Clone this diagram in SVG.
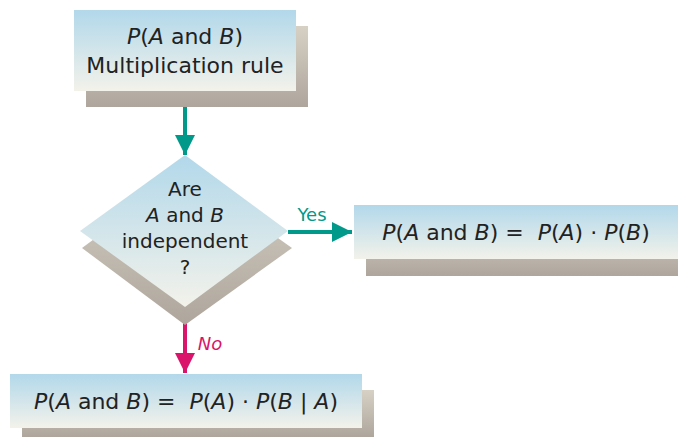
<svg xmlns="http://www.w3.org/2000/svg" width="678" height="437" viewBox="0 0 678 437">
<defs>
<linearGradient id="face" x1="0" y1="0" x2="0" y2="1">
<stop offset="0" stop-color="#b2d8ea"/>
<stop offset="1" stop-color="#f3f2ea"/>
</linearGradient>
<linearGradient id="shade" x1="0" y1="0" x2="0" y2="1">
<stop offset="0" stop-color="#d6d0c5"/>
<stop offset="1" stop-color="#aea69c"/>
</linearGradient>
<marker id="ahT" viewBox="0 0 10 10" refX="10" refY="5" markerWidth="5" markerHeight="5" markerUnits="strokeWidth" orient="auto">
<path d="M0,0 L10,5 L0,10 z" fill="#00998a"/>
</marker>
<marker id="ahM" viewBox="0 0 10 10" refX="10" refY="5" markerWidth="5" markerHeight="5" markerUnits="strokeWidth" orient="auto">
<path d="M0,0 L10,5 L0,10 z" fill="#d9146a"/>
</marker>
</defs>
<style>
.face{fill:url(#face)}
.shade{fill:url(#shade)}
text{font-family:"DejaVu Sans","Liberation Sans",sans-serif;font-size:22px;fill:#222;text-anchor:middle}
.i{font-style:italic}
.d{font-size:20px}
.lbl{font-size:18px}
</style>
<g id="connectors">
<line x1="185" y1="91" x2="185" y2="155" stroke="#00998a" stroke-width="4" marker-end="url(#ahT)"/>
<line x1="288" y1="232" x2="352" y2="232" stroke="#00998a" stroke-width="4" marker-end="url(#ahT)"/>
<text class="lbl" x="312" y="221" style="fill:#00998a">Yes</text>
<line x1="185" y1="309" x2="185" y2="373" stroke="#d9146a" stroke-width="4" marker-end="url(#ahM)"/>
<text class="lbl i" x="210" y="350" style="fill:#d9146a">No</text>
</g>
<g id="start">
<rect class="shade" x="86" y="26" width="222" height="81"/>
<rect class="face" x="74" y="10" width="222" height="81"/>
<text x="185" y="44"><tspan class="i">P</tspan>(<tspan class="i">A</tspan> and <tspan class="i">B</tspan>)</text>
<text x="185" y="73">Multiplication rule</text>
</g>
<g id="decision">
<polygon class="shade" points="185,172 292,248 185,325 82,248"/>
<polygon class="face" points="185,155 288,231 185,307 80,231"/>
<text class="d" x="185" y="196">Are</text>
<text class="d" x="185" y="222"><tspan class="i">A</tspan> and <tspan class="i">B</tspan></text>
<text class="d" x="185" y="248">independent</text>
<text class="d" x="185" y="274">?</text>
</g>
<g id="independent">
<rect class="shade" x="366" y="221" width="312" height="55"/>
<rect class="face" x="354" y="205" width="324" height="54"/>
<text x="516" y="240" xml:space="preserve"><tspan class="i">P</tspan>(<tspan class="i">A</tspan> and <tspan class="i">B</tspan>) =  <tspan class="i">P</tspan>(<tspan class="i">A</tspan>) · <tspan class="i">P</tspan>(<tspan class="i">B</tspan>)</text>
</g>
<g id="dependent">
<rect class="shade" x="22" y="390" width="352" height="47"/>
<rect class="face" x="10" y="374" width="352" height="54"/>
<text x="186" y="409" xml:space="preserve"><tspan class="i">P</tspan>(<tspan class="i">A</tspan> and <tspan class="i">B</tspan>) =  <tspan class="i">P</tspan>(<tspan class="i">A</tspan>) · <tspan class="i">P</tspan>(<tspan class="i">B</tspan> | <tspan class="i">A</tspan>)</text>
</g>
</svg>
